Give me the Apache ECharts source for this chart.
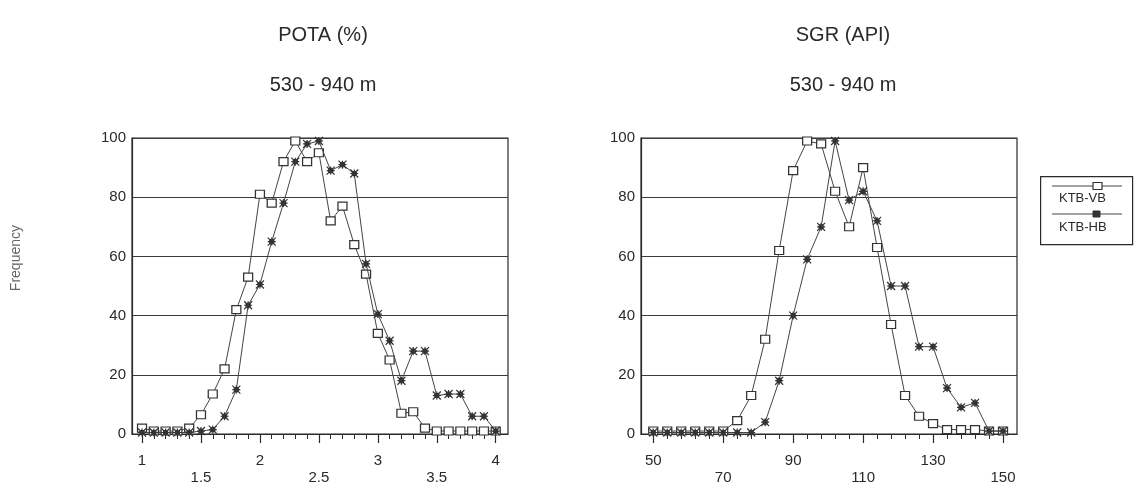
<!DOCTYPE html>
<html>
<head>
<meta charset="utf-8">
<script src="https://cdn.jsdelivr.net/npm/echarts@6/dist/echarts.min.js"></script>
<style>
  html, body { margin: 0; background: #fff; }
  #chart { width: 1135px; height: 489px; }
</style>
</head>
<body>
<div id="chart"></div>
<script>
// POTA (%) classes
const potaX = [1.0, 1.1, 1.2, 1.3, 1.4, 1.5, 1.6, 1.7, 1.8, 1.9, 2.0, 2.1, 2.2, 2.3, 2.4, 2.5,
  2.6, 2.7, 2.8, 2.9, 3.0, 3.1, 3.2, 3.3, 3.4, 3.5, 3.6, 3.7, 3.8, 3.9, 4.0];
const potaVB = [2, 1, 1, 1, 2, 6.5, 13.5, 22, 42, 53, 81, 78, 92, 99, 92, 95,
  72, 77, 64, 54, 34, 25, 7, 7.5, 2, 1, 1, 1, 1, 1, 1];
const potaHB = [0.5, 0.5, 0.5, 0.5, 0.5, 1, 1.5, 6, 15, 43.5, 50.5, 65, 78, 92, 98, 99,
  89, 91, 88, 57.5, 40.5, 31.5, 18, 28, 28, 13, 13.5, 13.5, 6, 6, 1];

// SGR (API) classes
const sgrX = [50, 54, 58, 62, 66, 70, 74, 78, 82, 86, 90, 94, 98, 102, 106, 110,
  114, 118, 122, 126, 130, 134, 138, 142, 146, 150];
const sgrVB = [1, 1, 1, 1, 1, 1, 4.5, 13, 32, 62, 89, 99, 98, 82, 70, 90,
  63, 37, 13, 6, 3.5, 1.5, 1.5, 1.5, 1, 1];
const sgrHB = [0.5, 0.5, 0.5, 0.5, 0.5, 0.5, 0.5, 0.5, 4, 18, 40, 59, 70, 99, 79, 82,
  72, 50, 50, 29.5, 29.5, 15.5, 9, 10.5, 1, 1];

// tick labels (upper row / lower row)
const potaLabelsTop = [1, 2, 3, 4];
const potaLabelsLow = [1.5, 2.5, 3.5];
const sgrLabelsTop = [50, 90, 130];
const sgrLabelsLow = [70, 110, 150];

const titles = ['POTA (%)', 'SGR (API)'];
const depthText = '530 - 940 m';
const seriesNames = ['KTB-VB', 'KTB-HB'];

const font = 'Liberation Sans, Arial, sans-serif';
const ink = '#2a2a2a';
const starPath = 'path://M0,0 L10,10 M10,0 L0,10 M0,5 L10,5 M5,0 L5,10 M2.5,2.5 L7.5,2.5 L7.5,7.5 L2.5,7.5 Z';

const chart = echarts.init(document.getElementById('chart'));

function near(list, v) {
  return list.some(t => Math.abs(t - v) < 1e-6);
}

// tick positions between first and last label
function minorTicks(from, to, step) {
  const out = [];
  for (let v = from; v <= to + 1e-9; v += step) out.push(Math.round(v * 100) / 100);
  return out;
}

function xAxes(gridIndex, min, max, top, low, minorStep) {
  const all = top.concat(low).sort((a, b) => a - b);
  return [
    {
      gridIndex: gridIndex, type: 'value', min: min, max: max, position: 'bottom',
      axisLine: { show: true, lineStyle: { color: ink, width: 1.2 } },
      splitLine: { show: false },
      axisTick: { show: true, customValues: all, length: 9, lineStyle: { color: ink, width: 1.2 } },
      axisLabel: {
        customValues: all, margin: 18, fontSize: 15, lineHeight: 17,
        color: ink, fontFamily: font,
        formatter: v => near(low, v) ? '\n' + v : String(v)
      }
    },
    {
      gridIndex: gridIndex, type: 'value', min: min, max: max, position: 'bottom', offset: 0,
      axisLine: { show: false },
      splitLine: { show: false },
      axisTick: { show: true, customValues: minorTicks(all[0], all[all.length - 1], minorStep),
        length: 5, lineStyle: { color: ink, width: 1 } },
      axisLabel: { show: false }
    }
  ];
}

function yAxis(gridIndex) {
  return {
    gridIndex: gridIndex, type: 'value', min: 0, max: 100, interval: 20,
    axisLine: { show: true, lineStyle: { color: ink, width: 1.2 } },
    axisTick: { show: false },
    splitLine: { show: true, lineStyle: { color: '#3a3a3a', width: 1 } },
    axisLabel: { fontSize: 15, color: ink, fontFamily: font, margin: 6 }
  };
}

function lineSeries(name, xs, ys, xIdx, yIdx, isStar) {
  return {
    name: name, type: 'line', xAxisIndex: xIdx, yAxisIndex: yIdx,
    data: xs.map((x, i) => [x, ys[i]]),
    symbol: isStar ? starPath : 'rect',
    symbolSize: isStar ? [8, 8] : [9, 8],
    showSymbol: true,
    lineStyle: { color: '#444', width: 1 },
    itemStyle: isStar
      ? { color: '#333', borderColor: '#333', borderWidth: 1.2 }
      : { color: '#fff', borderColor: '#333', borderWidth: 1.2 },
    z: isStar ? 4 : 3,
    animation: false
  };
}

const titleStyle = { fontSize: 20, fontWeight: 'normal', color: ink, fontFamily: font };

const option = {
  animation: false,
  backgroundColor: '#fff',
  title: [
    { text: titles[0], left: 318, top: 20, textAlign: 'center', textStyle: titleStyle },
    { text: depthText, left: 318, top: 70, textAlign: 'center', textStyle: titleStyle },
    { text: titles[1], left: 838, top: 20, textAlign: 'center', textStyle: titleStyle },
    { text: depthText, left: 838, top: 70, textAlign: 'center', textStyle: titleStyle }
  ],
  grid: [
    { left: 132, top: 138, width: 376, height: 296, show: true, borderColor: ink, borderWidth: 1.2 },
    { left: 641, top: 138, width: 376, height: 296, show: true, borderColor: ink, borderWidth: 1.2 }
  ],
  xAxis: xAxes(0, 0.915, 4.104, potaLabelsTop, potaLabelsLow, 0.1)
    .concat(xAxes(1, 46.5, 154, sgrLabelsTop, sgrLabelsLow, 4)),
  yAxis: [yAxis(0), yAxis(1)],
  series: [
    lineSeries(seriesNames[0], potaX, potaVB, 0, 0, false),
    lineSeries(seriesNames[1], potaX, potaHB, 0, 0, true),
    lineSeries(seriesNames[0], sgrX, sgrVB, 2, 1, false),
    lineSeries(seriesNames[1], sgrX, sgrHB, 2, 1, true)
  ],
  graphic: [
    { type: 'text', left: 9, top: 225, rotation: Math.PI / 2,
      style: { text: 'Frequency', fontSize: 14, fill: '#666', fontFamily: font } },
    { type: 'rect', left: 1040, top: 176, shape: { width: 92, height: 68 },
      style: { fill: '#fff', stroke: ink, lineWidth: 1.2 } },
    { type: 'line', shape: { x1: 1052, y1: 186, x2: 1122, y2: 186 },
      style: { stroke: '#444', lineWidth: 1 } },
    { type: 'rect', shape: { x: 1093, y: 182.5, width: 9, height: 7 },
      style: { fill: '#fff', stroke: '#333', lineWidth: 1.2 } },
    { type: 'text', left: 1059, top: 192,
      style: { text: seriesNames[0], fontSize: 13, fill: ink, fontFamily: font } },
    { type: 'line', shape: { x1: 1052, y1: 214, x2: 1122, y2: 214 },
      style: { stroke: '#444', lineWidth: 1 } },
    { type: 'rect', shape: { x: 1093, y: 211, width: 7, height: 6 },
      style: { fill: '#333', stroke: '#333', lineWidth: 1 } },
    { type: 'text', left: 1059, top: 221,
      style: { text: seriesNames[1], fontSize: 13, fill: ink, fontFamily: font } }
  ]
};

chart.setOption(option);
</script>
</body>
</html>
